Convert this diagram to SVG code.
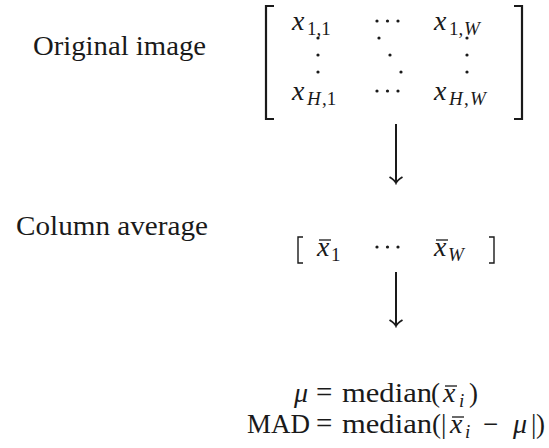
<svg xmlns="http://www.w3.org/2000/svg" width="549" height="448" viewBox="0 0 549 448" font-family="'Liberation Serif', 'Times New Roman', serif">
<style>
text{font-family:'Liberation Serif','Times New Roman',serif;fill:#1a1a1a}
.lbl{font-size:27px}
.m{font-size:27px}
.eq{font-size:29px}
.mi{font-size:28px;font-style:italic}
.s{font-size:19px}
.si{font-size:19px;font-style:italic}
.br{fill:none;stroke:#1a1a1a;stroke-width:2.2}
.brs{fill:none;stroke:#1a1a1a;stroke-width:1.4}
.dot{fill:#1a1a1a}
.conn{stroke:#1a1a1a;stroke-width:2;fill:none}
.bar{stroke:#1a1a1a;stroke-width:1.3}
</style>
<defs>
<marker id="ah" viewBox="-8 -8 10 16" markerWidth="10" markerHeight="16" refX="0" refY="0" orient="auto" markerUnits="userSpaceOnUse">
<path d="M-6,-6.5 Q-2.5,-1 0,0 Q-2.5,1 -6,6.5" fill="none" stroke="#1a1a1a" stroke-width="1.8"/>
</marker>
</defs>
<g id="original-label"><text class="lbl" x="33" y="55" textLength="173" lengthAdjust="spacingAndGlyphs">Original image</text></g>
<g id="matrix">
<path class="br" d="M274,6 H266 V119 H274"/>
<path class="br" d="M514,6 H522 V119 H514"/>
<text class="mi" x="292" y="30">x</text><text class="s" x="307" y="35">1,1</text>
<circle class="dot" cx="377" cy="21" r="1.6"/><circle class="dot" cx="387.5" cy="21" r="1.6"/><circle class="dot" cx="398" cy="21" r="1.6"/>
<text class="mi" x="434" y="30">x</text><text class="s" x="449" y="35">1,</text><text class="si" x="464" y="35">W</text>
<circle class="dot" cx="318" cy="38" r="1.6"/><circle class="dot" cx="318" cy="55" r="1.6"/><circle class="dot" cx="318" cy="72" r="1.6"/>
<circle class="dot" cx="379" cy="38" r="1.6"/><circle class="dot" cx="390" cy="55" r="1.6"/><circle class="dot" cx="401" cy="72" r="1.6"/>
<circle class="dot" cx="467" cy="38" r="1.6"/><circle class="dot" cx="467" cy="55" r="1.6"/><circle class="dot" cx="467" cy="72" r="1.6"/>
<text class="mi" x="292" y="100">x</text><text class="si" x="307" y="105">H</text><text class="s" x="322" y="105">,1</text>
<circle class="dot" cx="377" cy="91" r="1.6"/><circle class="dot" cx="387.5" cy="91" r="1.6"/><circle class="dot" cx="398" cy="91" r="1.6"/>
<text class="mi" x="434" y="100">x</text><text class="si" x="449" y="105">H</text><text class="s" x="464" y="105">,</text><text class="si" x="470" y="105">W</text>
</g>
<g id="colavg-label"><text class="lbl" x="16" y="235" textLength="192" lengthAdjust="spacingAndGlyphs">Column average</text></g>
<g id="colvec">
<path class="brs" d="M303,237 H298 V263 H303"/>
<path class="brs" d="M489,237 H494 V263 H489"/>
<text class="mi" x="317" y="256">x</text><line class="bar" x1="319" y1="240" x2="331" y2="240"/><text class="s" x="331" y="261">1</text>
<circle class="dot" cx="377" cy="247" r="1.6"/><circle class="dot" cx="387.5" cy="247" r="1.6"/><circle class="dot" cx="398" cy="247" r="1.6"/>
<text class="mi" x="434" y="256">x</text><line class="bar" x1="436" y1="240" x2="448" y2="240"/><text class="si" x="448" y="261">W</text>
</g>
<g id="stats">
<text class="mi" x="294" y="402">μ</text>
<text class="eq" x="316" y="402">=</text>
<text class="m" x="342" y="402" textLength="90" lengthAdjust="spacingAndGlyphs">median</text>
<text class="m" x="431" y="402">(</text>
<text class="mi" x="443" y="402">x</text><line class="bar" x1="445" y1="386" x2="457" y2="386"/>
<text class="si" x="459" y="407">i</text>
<text class="m" x="469" y="402">)</text>
<text class="m" x="247" y="433" textLength="63" lengthAdjust="spacingAndGlyphs">MAD</text>
<text class="eq" x="316" y="433">=</text>
<text class="m" x="342" y="433" textLength="90" lengthAdjust="spacingAndGlyphs">median</text>
<text class="m" x="432" y="433">(</text>
<text class="m" x="441" y="433">|</text>
<text class="mi" x="450" y="433">x</text><line class="bar" x1="452" y1="417" x2="464" y2="417"/>
<text class="si" x="465" y="438">i</text>
<text class="m" x="483" y="433">−</text>
<text class="mi" x="513" y="433">μ</text>
<text class="m" x="531" y="433">|</text>
<text class="m" x="536" y="433">)</text>
</g>
<g id="connectors">
<line class="conn" x1="396" y1="124" x2="396" y2="183" marker-end="url(#ah)"/>
<line class="conn" x1="396" y1="272" x2="396" y2="326" marker-end="url(#ah)"/>
</g>
</svg>
